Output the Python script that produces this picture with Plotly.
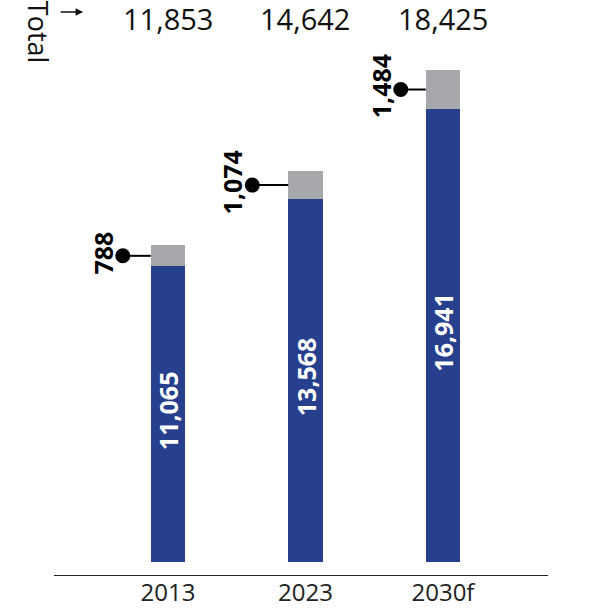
import plotly.graph_objects as go

# Data
years = ["2013", "2023", "2030f"]
base_values = [11065, 13568, 16941]
extra_values = [788, 1074, 1484]
totals = [11853, 14642, 18425]

# Styling
BLUE = "#26408E"
GREY = "#A7A8AB"
FONT = "Open Sans"
dot_gap_px = [28, 36, 25]     # distance from callout dot to bar edge
PX_PER_X = 137.5              # pixels per category step
BAR_W = 0.25

x_pos = list(range(len(years)))

fig = go.Figure()
fig.add_trace(go.Bar(x=x_pos, y=base_values, width=BAR_W, marker_color=BLUE,
                     marker_line_width=0, hoverinfo="skip"))
fig.add_trace(go.Bar(x=x_pos, y=extra_values, width=BAR_W, marker_color=GREY,
                     marker_line_width=0, hoverinfo="skip"))

annotations = []
shapes = []
dot_x, dot_y = [], []
for i, x in enumerate(x_pos):
    # white value label inside the blue segment
    annotations.append(dict(
        x=x, y=base_values[i] / 2, xref="x", yref="y", yshift=4,
        text=f"{base_values[i]:,}", textangle=-90, showarrow=False,
        font=dict(family=FONT, size=25, color="white", weight="bold"),
    ))
    # callout for the grey segment
    edge = x - BAR_W / 2
    dx = edge - dot_gap_px[i] / PX_PER_X
    dy = base_values[i] + extra_values[i] / 2
    dot_x.append(dx)
    dot_y.append(dy)
    shapes.append(dict(type="line", xref="x", yref="y", x0=dx, x1=edge,
                       y0=dy, y1=dy, line=dict(color="black", width=2)))
    annotations.append(dict(
        x=dx, y=dy, xref="x", yref="y", xshift=-20, yshift=3,
        text=f"{extra_values[i]:,}", textangle=-90, showarrow=False,
        font=dict(family=FONT, size=25, color="black", weight="bold"),
    ))
    # total above the chart
    annotations.append(dict(
        x=x, y=1, xref="x", yref="paper", yanchor="middle", yshift=17,
        text=f"{totals[i]:,}", showarrow=False, borderpad=0,
        font=dict(family=FONT, size=29, color="#111111"),
    ))

fig.add_trace(go.Scatter(x=dot_x, y=dot_y, mode="markers",
                         marker=dict(color="black", size=15), hoverinfo="skip"))

# "Total" side label with arrow
annotations.append(dict(
    x=-0.03, y=1, xref="paper", yref="paper", xanchor="center", yanchor="middle",
    yshift=3, text="Total", textangle=90, showarrow=False, borderpad=0,
    font=dict(family=FONT, size=27, color="#111111"),
))
annotations.append(dict(
    x=0.059, y=1.0426, xref="paper", yref="paper", text="",
    showarrow=True, axref="pixel", ayref="pixel", ax=-24, ay=0,
    arrowhead=2, arrowsize=1, arrowwidth=1.5, arrowcolor="#111111",
))

fig.update_layout(
    barmode="stack",
    width=590, height=610,
    margin=dict(l=54, r=42, t=35, b=35, autoexpand=False),
    plot_bgcolor="white", paper_bgcolor="white",
    showlegend=False,
    annotations=annotations,
    shapes=shapes,
    xaxis=dict(
        range=[-0.829, 2.764], tickvals=x_pos, ticktext=years,
        showline=True, linecolor="#222222", linewidth=1,
        showgrid=False, zeroline=False, ticks="", automargin=False,
        ticklabelstandoff=-4,
        tickfont=dict(family=FONT, size=24, color="#222222"),
    ),
    yaxis=dict(range=[-486, 19723], visible=False, showgrid=False,
               zeroline=False, automargin=False),
)

fig.write_html("out.html")
